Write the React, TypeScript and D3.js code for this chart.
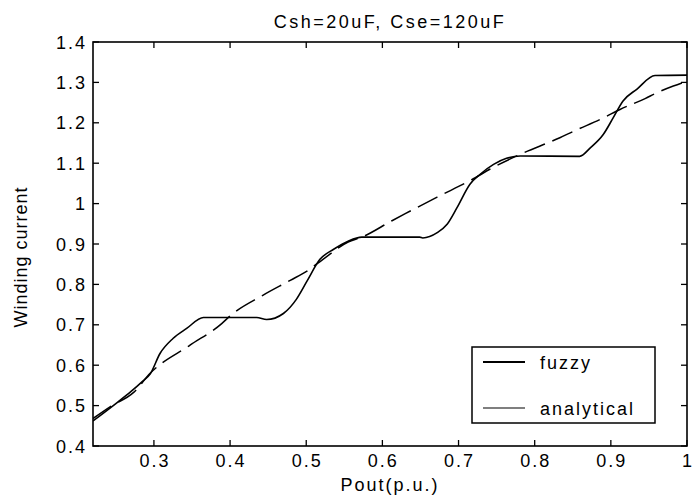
import React from "react";
import * as d3 from "d3";

const title = "Csh=20uF, Cse=120uF";
const xLabel = "Pout(p.u.)";
const yLabel = "Winding current";
const xTicks = [0.3, 0.4, 0.5, 0.6, 0.7, 0.8, 0.9, 1];
const yTicks = [0.4, 0.5, 0.6, 0.7, 0.8, 0.9, 1, 1.1, 1.2, 1.3, 1.4];
const seriesNames = ["fuzzy", "analytical"];

const fuzzyX = [0.22, 0.25, 0.27, 0.285, 0.295, 0.308, 0.325, 0.343, 0.365, 0.435, 0.448, 0.47, 0.487, 0.501, 0.518, 0.536, 0.555, 0.573, 0.649, 0.653, 0.672, 0.685, 0.698, 0.715, 0.728, 0.746, 0.763, 0.781, 0.859, 0.873, 0.89, 0.903, 0.916, 0.934, 0.958, 1.0];
const fuzzyY = [0.462, 0.505, 0.535, 0.56, 0.578, 0.629, 0.666, 0.691, 0.718, 0.718, 0.713, 0.728, 0.763, 0.808, 0.862, 0.887, 0.907, 0.917, 0.917, 0.915, 0.928, 0.949, 0.99, 1.048, 1.072, 1.097, 1.112, 1.118, 1.117, 1.138, 1.171, 1.212, 1.254, 1.283, 1.317, 1.318];

const analyticalX = [0.22, 0.245, 0.273, 0.295, 0.347, 0.389, 0.4, 0.443, 0.479, 0.501, 0.522, 0.555, 0.573, 0.612, 0.63, 0.672, 0.722, 0.741, 0.781, 0.833, 0.851, 0.89, 0.912, 0.945, 0.96, 0.982, 1.0];
const analyticalY = [0.468, 0.5, 0.532, 0.58, 0.649, 0.703, 0.722, 0.773, 0.81, 0.833, 0.862, 0.905, 0.917, 0.957, 0.975, 1.016, 1.064, 1.085, 1.122, 1.163, 1.179, 1.212, 1.233, 1.26, 1.274, 1.291, 1.303];

const L = 93, R = 687, T = 42, B = 446;
const font = "'Liberation Sans', Arial, sans-serif";

export default function App() {
  const x = d3.scaleLinear().domain([0.22, 1]).range([L, R]);
  const y = d3.scaleLinear().domain([0.4, 1.4]).range([B, T]);
  const line = d3
    .line<[number, number]>()
    .x((d) => x(d[0]))
    .y((d) => y(d[1]))
    .curve(d3.curveMonotoneX);
  const fuzzy = fuzzyX.map((v, i) => [v, fuzzyY[i]] as [number, number]);
  const analytical = analyticalX.map((v, i) => [v, analyticalY[i]] as [number, number]);
  const tk = 6;
  const fmt = (v: number) => String(v);
  return (
    <svg width={694} height={499} style={{ position: "absolute", left: 0, top: 0, background: "#fff" }} fontFamily={font}>
      <rect x={0} y={0} width={694} height={499} fill="#fff" />
      <text x={(L + R) / 2} y={28} textAnchor="middle" fontSize={18} letterSpacing={2.5}>{title}</text>
      <g clipPath="url(#clip)">
        <path d={line(analytical) || ""} fill="none" stroke="#000" strokeWidth={1.5} strokeDasharray="22 8" />
        <path d={line(fuzzy) || ""} fill="none" stroke="#000" strokeWidth={1.6} />
      </g>
      <defs>
        <clipPath id="clip">
          <rect x={L} y={T} width={R - L} height={B - T} />
        </clipPath>
      </defs>
      <rect x={L} y={T} width={R - L} height={B - T} fill="none" stroke="#000" strokeWidth={1.6} />
      {xTicks.map((t) => (
        <g key={"x" + t}>
          <line x1={x(t)} x2={x(t)} y1={B} y2={B - tk} stroke="#000" strokeWidth={1.3} />
          <line x1={x(t)} x2={x(t)} y1={T} y2={T + tk} stroke="#000" strokeWidth={1.3} />
          <text x={x(t) + 1} y={466.5} textAnchor="middle" fontSize={18} letterSpacing={2}>{fmt(t)}</text>
        </g>
      ))}
      {yTicks.map((t) => (
        <g key={"y" + t}>
          <line x1={L} x2={L + tk} y1={y(t)} y2={y(t)} stroke="#000" strokeWidth={1.3} />
          <line x1={R} x2={R - tk} y1={y(t)} y2={y(t)} stroke="#000" strokeWidth={1.3} />
          <text x={87} y={y(t) + 6.5} textAnchor="end" fontSize={18} letterSpacing={2}>{fmt(t)}</text>
        </g>
      ))}
      <text x={390} y={491} textAnchor="middle" fontSize={18} letterSpacing={2}>{xLabel}</text>
      <text transform={`translate(27,257) rotate(-90)`} textAnchor="middle" fontSize={18} letterSpacing={1}>{yLabel}</text>
      <g>
        <rect x={472} y={347} width={183} height={76} fill="#fff" stroke="#000" strokeWidth={1.5} />
        <line x1={483} x2={525} y1={362} y2={362} stroke="#000" strokeWidth={1.8} />
        <text x={540} y={368.5} fontSize={18} letterSpacing={2}>{seriesNames[0]}</text>
        <line x1={483} x2={525} y1={408} y2={408} stroke="#000" strokeWidth={1.2} />
        <text x={540} y={414.5} fontSize={18} letterSpacing={2}>{seriesNames[1]}</text>
      </g>
    </svg>
  );
}
